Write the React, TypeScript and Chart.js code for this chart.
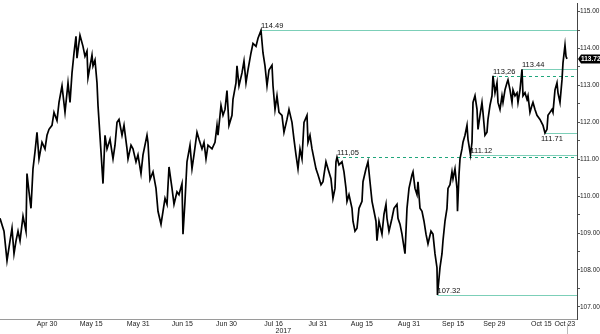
import React, { useEffect, useRef } from "react";
import { Chart, registerables } from "chart.js";

Chart.register(...registerables);

// x = days since Apr 30 2017 (fractional, intraday), y = USDJPY
const days = [
  -15.97, -14.61, -13.59, -12.57, -11.89, -11.21, -10.53, -9.85, -9.17, -8.15, -7.14, -6.8, -6.12, -5.44, -4.76, -4.08, -3.4, -2.72, -1.7, -0.68,
  0, 0.68, 1.7, 2.38, 3.4, 4.08, 5.1, 6.12, 7.14, 7.82, 8.5, 9.18, 9.85, 10.19, 11.21, 12.23, 12.91, 13.59, 13.93, 15.29,
  15.63, 16.31, 16.99, 17.33, 18.35, 19.03, 19.71, 20.39, 21.41, 22.43, 23.11, 23.79, 24.47, 25.49, 26.17, 27.19, 27.53, 28.55, 29.22, 30.24,
  30.92, 31.94, 32.62, 33.98, 34.32, 35.0,
  36.02, 37.04, 37.72, 38.74, 39.42, 40.1, 40.78, 41.46, 42.48, 43.16, 44.17, 44.85, 45.87, 46.21, 46.89, 47.57, 48.59, 49.27, 49.95, 50.97,
  51.65, 52.67, 53.35, 54.03, 54.71, 56.07, 57.09, 57.77, 58.11, 59.13, 59.81, 60.49, 61.16, 61.84, 62.86, 63.2, 64.22, 64.56, 65.24, 66.26,
  66.94, 67.62, 68.3, 69.32, 70.0, 71.02, 71.7, 72.72, 73.4, 74.08, 74.76, 75.44, 76.46, 76.8, 77.48, 78.15, 78.83, 79.85, 80.53, 81.55,
  82.23, 83.25, 83.93, 84.61, 85.29, 85.97,
  86.65, 87.33, 88.35, 88.69, 89.37, 90.05, 90.73, 91.41, 92.09, 93.11, 93.79, 94.13, 94.8, 95.48, 96.5, 97.18, 97.86, 98.2, 98.54, 99.22,
  100.24, 100.92, 101.6, 101.94, 102.62, 103.64, 103.98, 104.66, 105.34, 106.02, 107.04, 107.38, 108.4, 109.08, 109.76, 110.44, 111.12, 111.79, 112.13, 112.81,
  113.83, 114.51, 115.19, 115.53, 116.21, 117.23, 117.91, 118.93, 119.27, 119.95, 120.63, 120.97, 121.65, 122.33, 123.01, 124.03, 124.37, 125.05, 125.73, 126.07,
  126.75, 127.43, 128.11, 128.79, 129.46, 130.48, 131.16, 131.84, 132.52, 132.69, 133.54, 134.22, 134.56, 135.24, 135.92, 136.26, 136.94,
  137.62, 137.96, 138.64, 139.32, 139.49, 140.0, 140.34, 141.02, 141.36, 142.04, 142.72, 143.06, 143.9, 144.42, 144.76, 145.44, 146.12, 146.46, 147.13, 147.81,
  148.15, 148.83, 149.51, 149.85, 150.53, 151.21, 151.55, 152.23, 152.91, 153.25, 153.93, 154.61, 154.95, 155.63, 156.31, 156.65, 157.33, 158.01, 158.35, 159.03,
  159.71, 160.05, 160.73, 161.41, 161.75, 162.43, 163.11, 163.45, 164.12, 164.8, 165.14, 165.82, 166.5, 167.52, 168.54, 169.22, 169.9, 170.24, 170.92, 171.6,
  171.94, 172.62, 173.3, 173.64, 174.32, 175.0, 175.34, 176.02, 176.36, 176.7,
];

const prices = [
  109.4, 109.05, 108.25, 108.79, 109.13, 108.44, 108.79, 109.05, 108.79, 109.46, 109.05, 110.61, 110.12, 109.67, 110.74, 111.2, 111.73, 111.01, 111.46, 111.28,
  111.65, 111.81, 111.92, 112.27, 112.05, 112.54, 112.99, 112.27, 113.07, 112.54, 113.34, 113.88, 114.33, 113.74, 114.36, 114.06, 113.79, 113.93, 113.21, 113.82,
  113.53, 113.69, 113.07, 112.46, 111.2, 110.34, 111.65, 111.28, 111.54, 111.01, 111.38, 112.0, 112.08, 111.65, 111.92, 111.28, 111.01, 111.38, 111.28, 110.93,
  111.12, 110.61, 111.12, 111.65, 111.46, 110.45,
  110.66, 110.21, 109.59, 109.24, 109.59, 109.94, 109.78, 110.79, 110.21, 109.78, 110.12, 110.04, 110.34, 108.97, 109.86, 110.93, 111.38, 110.74, 111.12, 111.73,
  111.54, 111.28, 111.46, 111.01, 111.38, 111.28, 111.46, 111.92, 111.65, 112.46, 112.19, 112.35, 112.86, 111.92, 112.19, 112.62, 113.07, 113.53, 112.99, 113.34,
  113.66, 113.07, 113.42, 113.88, 114.14, 114.06, 114.28, 114.49, 113.88, 113.53, 112.99, 113.42, 113.55, 112.99, 112.35, 112.72, 112.27, 112.19, 111.73, 112.08,
  112.35, 112.0, 111.54, 111.12, 110.74, 111.28,
  111.01, 112.0, 112.19, 111.46, 111.65, 111.28, 111.01, 110.74, 110.58, 110.31, 110.39, 110.58, 110.93, 110.74, 110.47, 109.94, 110.21, 110.93, 111.05, 110.85,
  110.93, 110.66, 110.21, 109.86, 110.04, 109.67, 109.32, 109.05, 109.13, 109.67, 109.86, 110.39, 110.74, 110.93, 110.39, 109.86, 109.59, 109.32, 108.79, 109.32,
  108.97, 109.51, 109.78, 109.4, 109.05, 109.4, 109.67, 109.78, 109.4, 109.24, 108.97, 108.79, 108.44, 109.67, 110.21, 110.58, 110.66, 110.21, 110.04, 110.39,
  109.67, 109.59, 109.32, 108.97, 108.71, 109.05, 108.97, 108.44, 108.06, 107.32, 108.06, 108.44, 108.79, 109.32, 109.67, 110.21, 110.31,
  110.66, 110.47, 110.74, 110.21, 109.59, 110.58, 111.01, 111.28, 111.46, 111.65, 111.92, 111.54, 111.12, 111.46, 112.54, 112.72, 112.35, 111.81, 112.19, 112.54,
  112.27, 111.65, 111.73, 112.08, 112.46, 112.72, 113.26, 112.8, 113.07, 112.54, 112.35, 112.72, 112.54, 112.88, 113.07, 113.15, 112.88, 112.54, 112.88, 112.72,
  112.8, 112.54, 112.88, 113.44, 112.72, 112.8, 112.62, 112.72, 112.27, 112.46, 112.54, 112.35, 112.19, 112.08, 111.92, 111.71, 111.81, 112.19, 112.27, 112.35,
  112.27, 112.88, 113.07, 112.8, 112.54, 113.15, 113.61, 114.09, 113.79, 113.72,
];

const xTickDays = [0, 15, 31, 46, 61, 77, 92, 107, 123, 138, 152, 168, 176];
const xTickLabels: (string | string[])[] = [
  "Apr 30", "May 15", "May 31", "Jun 15", "Jun 30", ["Jul 16", "          2017"],
  "Jul 31", "Aug 15", "Aug 31", "Sep 15", "Sep 29", "Oct 15", "Oct 23",
];
const yTickValues = [107, 108, 109, 110, 111, 112, 113, 114, 115];

const levelValues = [114.49, 111.05, 111.12, 113.26, 113.44, 111.71, 107.32];
const levelLabels = ["114.49", "111,05", "111.12", "113,26", "113.44", "111.71", "107.32"];
const levelStartDays = [72.72, 98.54, 143.9, 151.55, 161.41, 169.22, 132.69];
const levelDashed = [false, true, false, true, false, false, false];
const levelLabelBelow = [false, false, false, false, false, true, false];

const FONT = '"Liberation Sans", Arial, sans-serif';

const levelsPlugin = {
  id: "levels",
  beforeDatasetsDraw(chart: any) {
    const { ctx, chartArea, scales } = chart;
    const x = scales.x;
    const y = scales.y;
    ctx.save();
    levelValues.forEach((v, i) => {
      const px = x.getPixelForValue(levelStartDays[i]);
      const py = Math.round(y.getPixelForValue(v)) + 0.5;
      ctx.beginPath();
      ctx.setLineDash(levelDashed[i] ? [3, 3] : []);
      ctx.strokeStyle = levelDashed[i] ? "#1fa67b" : "#7ccfb8";
      ctx.lineWidth = 1;
      ctx.moveTo(px, py);
      ctx.lineTo(chartArea.right, py);
      ctx.stroke();
    });
    ctx.restore();
  },
  afterDatasetsDraw(chart: any) {
    const { ctx, chartArea, scales } = chart;
    const x = scales.x;
    const y = scales.y;
    ctx.save();
    ctx.font = `7.5px ${FONT}`;
    ctx.fillStyle = "#111";
    ctx.textAlign = "left";
    levelValues.forEach((v, i) => {
      const px = x.getPixelForValue(levelStartDays[i]);
      const py = y.getPixelForValue(v);
      if (levelLabelBelow[i]) {
        ctx.textBaseline = "top";
        ctx.fillText(levelLabels[i], px - 4, py + 2);
      } else {
        ctx.textBaseline = "bottom";
        ctx.fillText(levelLabels[i], px, py - 0.5);
      }
    });
    // last value marker on the axis
    const lv = prices[prices.length - 1];
    const ly = Math.round(y.getPixelForValue(lv));
    const bx = chartArea.right + 1;
    ctx.fillStyle = "#000";
    ctx.beginPath();
    ctx.moveTo(bx, ly);
    ctx.lineTo(bx + 3, ly - 4.5);
    ctx.lineTo(600, ly - 4.5);
    ctx.lineTo(600, ly + 4.5);
    ctx.lineTo(bx + 3, ly + 4.5);
    ctx.closePath();
    ctx.fill();
    ctx.fillStyle = "#fff";
    ctx.font = `bold 6.5px ${FONT}`;
    ctx.textBaseline = "middle";
    ctx.fillText(lv.toFixed(2), bx + 3, ly + 0.5);
    // current-date marker below the axis
    const lx = Math.round(x.getPixelForValue(days[days.length - 1])) + 0.5;
    ctx.strokeStyle = "#bbb";
    ctx.lineWidth = 1;
    ctx.beginPath();
    ctx.moveTo(lx, chartArea.bottom + 4);
    ctx.lineTo(lx, 334);
    ctx.stroke();
    ctx.restore();
  },
};

export default function App() {
  const ref = useRef<HTMLCanvasElement>(null);
  useEffect(() => {
    document.body.style.margin = "0";
    const canvas = ref.current!;
    const chart = new Chart(canvas, {
      type: "line",
      data: {
        datasets: [
          {
            data: days.map((d, i) => ({ x: d, y: prices[i] })),
            borderColor: "#000",
            borderWidth: 1.7,
            pointRadius: 0,
            tension: 0,
            fill: false,
          },
        ],
      },
      options: {
        animation: false,
        responsive: false,
        maintainAspectRatio: false,
        layout: { padding: 0 },
        plugins: { legend: { display: false }, tooltip: { enabled: false } },
        scales: {
          x: {
            type: "linear",
            min: -15.97,
            max: 180.1,
            grid: { display: false, drawTicks: false, tickLength: 0 },
            border: { display: true, color: "#9a9a9a", width: 1 },
            afterBuildTicks: (s: any) => {
              s.ticks = xTickDays.map((v) => ({ value: v }));
            },
            ticks: {
              autoSkip: false,
              maxRotation: 0,
              minRotation: 0,
              padding: 1,
              color: "#222",
              font: { size: 7, family: FONT, lineHeight: 1.1 },
              callback: (_v: any, i: number) => xTickLabels[i],
            },
            afterFit: (s: any) => {
              s.height = 15;
            },
          },
          y: {
            type: "linear",
            position: "right",
            min: 106.67,
            max: 115.21,
            afterBuildTicks: (s: any) => {
              const t: any[] = [];
              yTickValues.forEach((v, i) => {
                t.push({ value: v });
                if (i < yTickValues.length - 1) t.push({ value: v + 0.5 });
              });
              s.ticks = t;
            },
            grid: { drawOnChartArea: false, drawTicks: true, tickLength: 3, color: "#555" },
            border: { display: true, color: "#444", width: 1 },
            ticks: {
              padding: 0,
              color: "#222",
              font: { size: 6.5, family: FONT },
              callback: (v: any) => (Number(v) % 1 === 0 ? Number(v).toFixed(2) : ""),
            },
            afterFit: (s: any) => {
              s.width = 23;
            },
          },
        },
      },
      plugins: [levelsPlugin],
    } as any);
    return () => chart.destroy();
  }, []);
  return (
    <div style={{ width: 600, height: 334, position: "relative" }}>
      <canvas ref={ref} width={600} height={334} style={{ display: "block", width: 600, height: 334 }} />
    </div>
  );
}
